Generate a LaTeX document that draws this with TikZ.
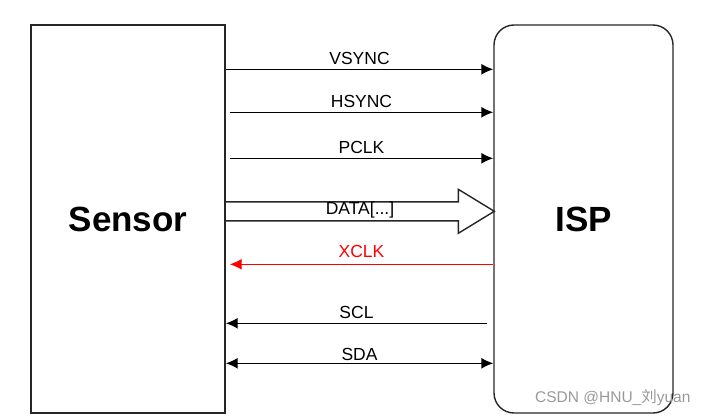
\documentclass[tikz,border=0pt]{standalone}
\usepackage{fontspec}
\setmainfont{Liberation Sans}
\newfontfamily\cjkfont{Noto Sans CJK SC}
\usetikzlibrary{arrows.meta,positioning,calc}

\begin{document}
\begin{tikzpicture}[
    x=1pt, y=-1pt,
    chip/.style={rectangle, draw=black!85, line width=1.4pt, font=\fontsize{35}{40}\selectfont\bfseries},
    sig/.style={draw, line width=1.4pt, -{Latex[length=12pt,width=11pt]}},
    label/.style={font=\fontsize{17.5}{20}\selectfont, inner sep=2pt},
    hollow/.style={draw=black!85, line width=1.4pt}
]
\useasboundingbox (0,0) rectangle (708,417);

% Nodes
\node[chip, minimum width=194pt, minimum height=388pt] (sensor) at (128,219) {Sensor};
\node[chip, rounded corners=20pt, minimum width=179pt, minimum height=388pt] (isp) at (583.5,219) {ISP};

% Lines
\draw[sig] ([yshift=-45pt]sensor.north east) -- node[label, above=2pt] {VSYNC} ([yshift=-45pt]isp.north west);
\draw[sig] ([xshift=4pt,yshift=-88pt]sensor.north east) -- node[label, above=2pt] {HSYNC} ([yshift=-88pt]isp.north west);
\draw[sig] ([xshift=4pt,yshift=-134pt]sensor.north east) -- node[label, above=2pt] {PCLK} ([yshift=-134pt]isp.north west);

% Data bus
\coordinate (dtail) at ([yshift=-187pt]sensor.north east);
\coordinate (dhead) at ([xshift=1pt,yshift=-187pt]isp.north west);
\draw[hollow] ([yshift=9.5pt]dtail) -- ([xshift=-36pt,yshift=9.5pt]dhead)
  -- ([xshift=-36pt,yshift=22pt]dhead) -- (dhead)
  -- ([xshift=-36pt,yshift=-22pt]dhead) -- ([xshift=-36pt,yshift=-9.5pt]dhead)
  -- ([yshift=-9.5pt]dtail);
\node[label] (data) at ($(dtail)!0.5!(dhead)+(0,-1)$) {DATA[...]};

% Lines back to the sensor
\draw[sig, red] ([yshift=-240pt]isp.north west) -- node[label, above=4pt] {XCLK} ([xshift=4pt,yshift=-240pt]sensor.north east);
\draw[sig] ([xshift=-6pt,yshift=-299pt]isp.north west) -- node[label, above=2pt] {SCL} ([yshift=-299pt]sensor.north east);
\draw[sig, {Latex[length=12pt,width=11pt]}-{Latex[length=12pt,width=11pt]}] ([yshift=-339pt]sensor.north east) -- node[label, above=0pt] {SDA} ([yshift=-339pt]isp.north west);

% Watermark
\node[font=\fontsize{15.5}{17}\selectfont, text=black!40, anchor=east] (mark) at (694,398) {CSDN @HNU\_{\cjkfont 刘}yuan};

\end{tikzpicture}
\end{document}
